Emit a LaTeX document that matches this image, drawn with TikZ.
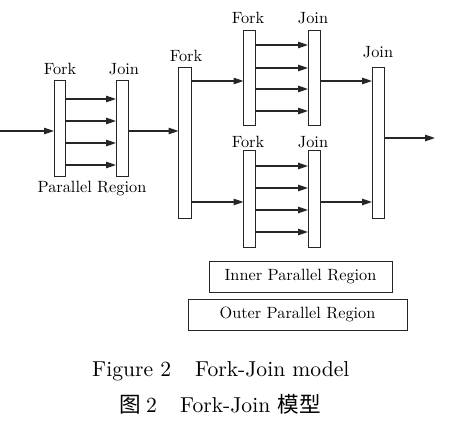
\documentclass[tikz,border=0pt]{standalone}
\usepackage{fontspec}
\setmainfont{lmroman10-regular.otf}
\newfontfamily\cjk{Noto Sans CJK SC}
\usetikzlibrary{arrows.meta}
\begin{document}
\begin{tikzpicture}[x=1pt,y=-1pt,
  bar/.style={draw=black!85, line width=1pt, fill=white, inner sep=0pt, outer sep=0pt, minimum width=12pt},
  arr/.style={draw=black!85, line width=1.1pt, -{Triangle[length=10pt,width=6.5pt]}},
  lbl/.style={inner sep=0pt, anchor=base, font=\fontsize{16.3}{19}\selectfont},
  regbox/.style={draw=black!85, line width=1pt, inner sep=0pt, minimum height=31pt, font=\fontsize{16.3}{19}\selectfont},
  captxt/.style={inner sep=0pt, anchor=base west, font=\fontsize{21.6}{25}\selectfont}]
\useasboundingbox (0,0) rectangle (450,425);
% bars
\node[bar, minimum width=11pt, minimum height=96pt] (f1) at (59.5,129) {};
\node[bar, minimum height=96pt] (j1) at (122,129) {};
\node[bar, minimum width=13pt, minimum height=150pt] (F) at (185,143) {};
\node[bar, minimum height=95pt] (ft) at (249.5,78.5) {};
\node[bar, minimum height=95pt] (jt) at (314,78.5) {};
\node[bar, minimum height=96pt] (fb) at (249.5,199) {};
\node[bar, minimum height=96pt] (jb) at (314,199) {};
\node[bar, minimum height=150pt] (J) at (378,143) {};
% labels
\node[lbl] (lf1) at (60,75) {Fork};
\node[lbl] (lj1) at (124,75) {Join};
\node[lbl] (pr) at (92,193) {Parallel Region};
\node[lbl] (lF) at (186,62) {Fork};
\node[lbl] (lft) at (248,24) {Fork};
\node[lbl] (ljt) at (313,24) {Join};
\node[lbl] (lfb) at (248,148) {Fork};
\node[lbl] (ljb) at (313,148) {Join};
\node[lbl] (lJ) at (378,58) {Join};
% free ends
\coordinate (in) at (0,131);
\coordinate (out) at (435,138);
% connectors
\draw[arr] (in) -- (f1.west |- in);
\foreach \y in {99,121,143,165} \draw[arr] (f1.east |- 0,\y) -- (j1.west |- 0,\y);
\draw[arr] (j1.east |- in) -- (F.west |- in);
\draw[arr] (F.east |- 0,81) -- (ft.west |- 0,81);
\draw[arr] (F.east |- 0,202) -- (fb.west |- 0,202);
\foreach \y in {45,68,89,111} \draw[arr] (ft.east |- 0,\y) -- (jt.west |- 0,\y);
\foreach \y in {166,188,210,232} \draw[arr] (fb.east |- 0,\y) -- (jb.west |- 0,\y);
\draw[arr] (jt.east |- 0,81) -- (J.west |- 0,81);
\draw[arr] (jb.east |- 0,202) -- (J.west |- 0,202);
\draw[arr] (J.east |- out) -- (out);
% region boxes
\node[regbox, minimum width=183pt] (inner) at (300.5,276.5) {Inner Parallel Region};
\node[regbox, minimum width=219pt] (outer) at (297.5,314.5) {Outer Parallel Region};
% caption
\node[captxt] (c1a) at (92,376) {Figure 2};
\node[captxt] (c1b) at (195,376) {Fork-Join model};
\node[captxt] (c2a) at (119,412) {\cjk 图};
\node[captxt] (c2b) at (146,412) {2};
\node[captxt] (c2c) at (180,412) {Fork-Join \cjk 模型};
\end{tikzpicture}
\end{document}
